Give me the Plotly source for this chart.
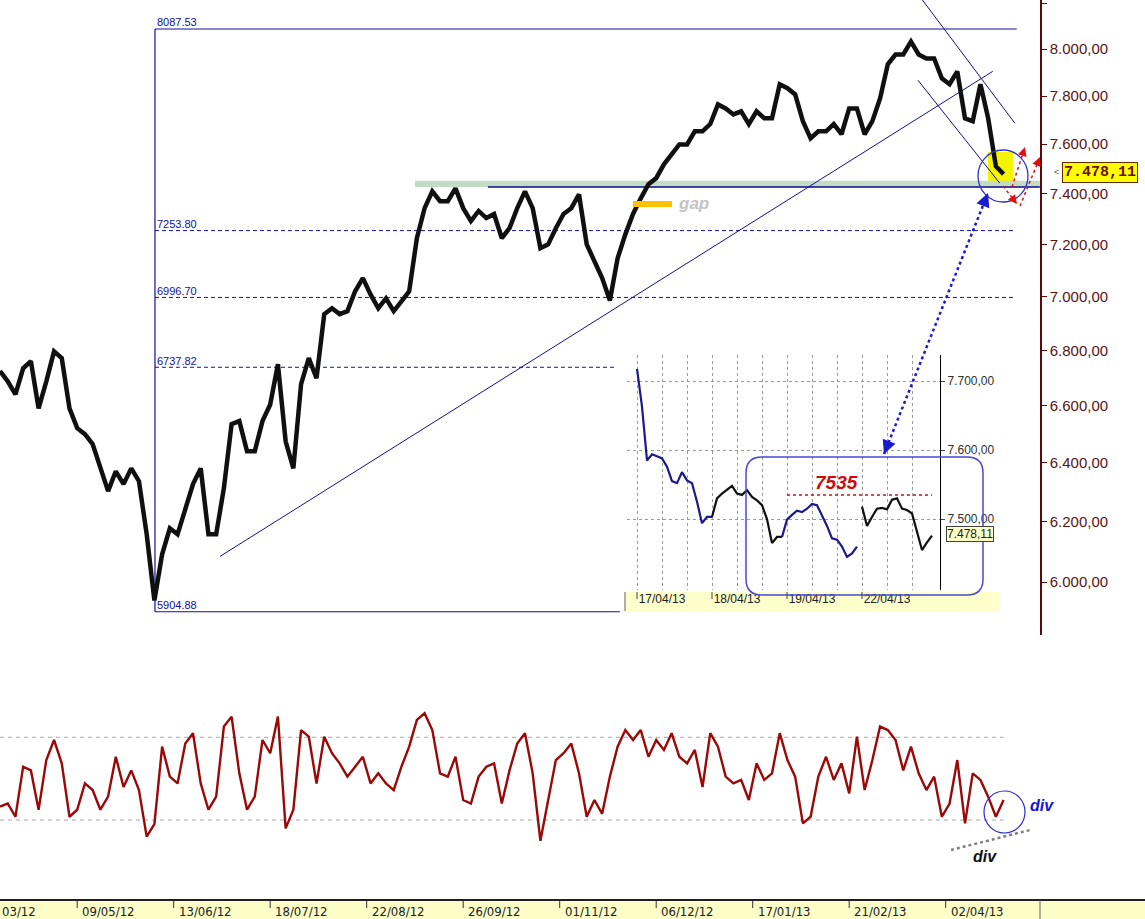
import plotly.graph_objects as go
import math

W, H = 1145, 919


def px(x):
    return x / W


def py(y):
    return 1 - y / H


# ---------------- data ----------------
# daily closes sampled every 2 trading days (index 0 = early April 2012)
close = [6724, 6687, 6640, 6734, 6760, 6590, 6687, 6796, 6771, 6590,
         6520, 6499, 6464, 6380, 6302, 6370, 6326, 6380, 6336, 6157,
         5941, 6091, 6177, 6157, 6244, 6326, 6380, 6157, 6157, 6312,
         6534, 6545, 6439, 6439, 6545, 6604, 6749, 6474, 6380, 6677,
         6771, 6698, 6934, 6956, 6934, 6945, 7020, 7070, 7008, 6956,
         6993, 6945, 6982, 7020, 7224, 7342, 7409, 7370, 7370, 7421,
         7342, 7291, 7331, 7303, 7319, 7224, 7263, 7342, 7409, 7342,
         7185, 7200, 7263, 7319, 7342, 7397, 7200, 7135, 7070, 6985,
         7146, 7239, 7319, 7381, 7438, 7462, 7518, 7558, 7599, 7599,
         7653, 7653, 7683, 7765, 7748, 7723, 7736, 7683, 7736, 7707,
         7707, 7850, 7833, 7807, 7695, 7624, 7653, 7653, 7683, 7641,
         7748, 7748, 7641, 7695, 7790, 7935, 7977, 7977, 8033, 7977,
         7960, 7960, 7875, 7850, 7905, 7707, 7695, 7850, 7707, 7510,
         7478.11]

osc = [36.5, 38, 31.6, 55.8, 54, 35, 59, 68.7, 57.4, 31.6,
       35, 47.7, 44.5, 35, 41.3, 60.6, 46, 54, 44.5, 22,
       28, 65.5, 51, 47.7, 67, 72, 47.7, 35, 41.3, 75.2,
       80, 52.6, 35, 41.3, 68.7, 62.3, 80, 26, 35, 73.5,
       70.3, 47.7, 70.3, 62.3, 57.4, 51, 55.8, 60.6, 47.7, 52.6,
       47.7, 44.5, 55.8, 65.5, 78.4, 81.6, 73.5, 52.6, 51, 60.6,
       39.7, 38, 51, 55.8, 57.4,
       38, 54, 67, 72, 52.6, 20, 39.7, 59, 62.3, 67,
       52.6, 31.6, 39.7, 33, 51, 65.5, 73.5, 68.7, 73.5, 60.6,
       68.7, 63.9, 72, 60.6, 57.4, 63.9, 46, 72, 65.5, 51,
       47.7, 49.4, 39.7, 57.4, 49.4, 52.6, 72, 59, 51, 28.4,
       31.6, 51, 60.6, 49.4, 57.4, 42.9, 70.3, 44.5, 59, 75.2,
       73.5, 68.7, 54, 65.5, 52.6, 44.5, 51, 31.6, 38, 59,
       28.4, 52.6, 49.4, 41.3, 31.6, 39.7]
osc_levels = [70, 30]

fib_levels = [8087.53, 7253.80, 6996.70, 6737.82, 5904.88]
fib_labels = ["8087.53", "7253.80", "6996.70", "6737.82", "5904.88"]
fib_solid = [True, False, False, False, True]
fib_end_day = [263.4, 263.0, 263.0, 159.3, 160.6]
fib_start_day = 40.15

price_ticks = [6000, 6200, 6400, 6600, 6800, 7000, 7200, 7400, 7600, 7800, 8000, 8200]
last_price = 7478.11

# first label is only partly visible at the left edge in the original ("03/12")
date_days = [-5, 20, 45, 70, 95, 120, 145, 170, 195, 220, 245]
date_labels = ["03/12", "09/05/12", "13/06/12", "18/07/12", "22/08/12", "26/09/12",
               "01/11/12", "06/12/12", "17/01/13", "21/02/13", "02/04/13"]

support_band = [7426, 7452]
support_band_days = [107.5, 269.4]
support_line_days = [126.4, 269.4]

# trend lines (day, price)
trend_up = ([57.0, 257.2], [6084, 7905])
chan_upper = ([238.8, 262.9], [8219, 7687])
chan_lower = ([237.8, 259.0], [7867, 7442])

# intraday inset (15 bars per session: 17/04, 18/04, 19/04, 22/04)
inset_close = [7718, 7663, 7585, 7594, 7591, 7588, 7576, 7555, 7552, 7568,
               7556, 7552, 7525, 7494, 7503, 7503, 7530, 7537, 7542, 7548,
               7537, 7535, 7542, 7532, 7527, 7520, 7500, 7465, 7474, 7474,
               7499, 7506, 7512, 7510, 7515, 7522, 7520, 7505, 7490, 7472,
               7470, 7460, 7445, 7450, 7460,
               7518, 7490, 7503, 7515, 7516, 7514, 7528, 7530, 7515, 7513,
               7508, 7480, 7455, 7466, 7476]
inset_day_labels = ["17/04/13", "18/04/13", "19/04/13", "22/04/13"]
inset_day_label_pos = [5, 20, 35, 50]
inset_session_start = [0, 15, 30, 45]
inset_ticks = [7500, 7600, 7700]
level_7535 = 7535

# ---------------- figure ----------------
BLUE = "#10109a"
MAROON = "#5a0a0a"
PX_PER_DAY = 3.86

fig = go.Figure()

# fib lines
for lvl, solid, end in zip(fib_levels, fib_solid, fib_end_day):
    fig.add_trace(go.Scatter(x=[fib_start_day, end], y=[lvl, lvl], mode="lines",
                             line=dict(color=BLUE, width=1, dash="solid" if solid else "4px,3px"),
                             xaxis="x", yaxis="y", hoverinfo="skip"))
fig.add_trace(go.Scatter(x=[fib_start_day, fib_start_day], y=[fib_levels[-1], fib_levels[0]],
                         mode="lines", line=dict(color=BLUE, width=1.2),
                         xaxis="x", yaxis="y", hoverinfo="skip"))
fig.add_trace(go.Scatter(x=[fib_start_day + 0.5] * len(fib_levels), y=fib_levels, text=fib_labels,
                         mode="text", textposition="top right",
                         textfont=dict(size=11, color=BLUE, family="Liberation Sans, Arial"),
                         xaxis="x", yaxis="y", hoverinfo="skip"))

# support band
fig.add_trace(go.Scatter(x=[support_band_days[0], support_band_days[1], support_band_days[1], support_band_days[0]],
                         y=[support_band[0], support_band[0], support_band[1], support_band[1]],
                         fill="toself", fillcolor="#c4dcc4", line=dict(width=0), mode="lines",
                         xaxis="x", yaxis="y", hoverinfo="skip"))
fig.add_trace(go.Scatter(x=support_line_days, y=[support_band[0], support_band[0]], mode="lines",
                         line=dict(color="#0a0a8c", width=1.5), xaxis="x", yaxis="y", hoverinfo="skip"))

# trend lines
for tl in (trend_up, chan_upper, chan_lower):
    fig.add_trace(go.Scatter(x=tl[0], y=tl[1], mode="lines", line=dict(color=BLUE, width=1),
                             xaxis="x", yaxis="y", hoverinfo="skip"))

# price
fig.add_trace(go.Scatter(x=[2 * i for i in range(len(close))], y=close, mode="lines",
                         line=dict(color="#101010", width=4.5), xaxis="x", yaxis="y",
                         hoverinfo="skip"))

# oscillator
n_osc = len(osc)
for lvl in osc_levels:
    fig.add_trace(go.Scatter(x=[0, 2 * (n_osc - 1)], y=[lvl, lvl], mode="lines",
                             line=dict(color="#a8a8a8", width=1, dash="4px,4px"),
                             xaxis="x2", yaxis="y2", hoverinfo="skip"))
fig.add_trace(go.Scatter(x=[2 * i for i in range(n_osc)], y=osc, mode="lines",
                         line=dict(color="#9a0808", width=2.4), xaxis="x2", yaxis="y2",
                         hoverinfo="skip"))

# inset segments
ix = list(range(len(inset_close)))
segments = [(0, 16, "#1a1a8a"), (15, 30, "#101010"), (29, 45, "#1a1a8a"), (45, 60, "#101010")]
for a, b, c in segments:
    fig.add_trace(go.Scatter(x=ix[a:b], y=inset_close[a:b], mode="lines",
                             line=dict(color=c, width=2.2), xaxis="x3", yaxis="y3", hoverinfo="skip"))
fig.add_trace(go.Scatter(x=[30, 59], y=[level_7535, level_7535], mode="lines",
                         line=dict(color="#d01010", width=1.5, dash="dot"),
                         xaxis="x3", yaxis="y3", hoverinfo="skip"))

# ---------------- layout ----------------
def fmt_it(v):
    s = f"{v:,.2f}"
    return s.replace(",", "X").replace(".", ",").replace("X", ".")


inset_tickvals = list(range(0, 60, 5))
inset_ticktext = []
for v in inset_tickvals:
    if v in inset_day_label_pos:
        inset_ticktext.append(inset_day_labels[inset_day_label_pos.index(v)])
    else:
        inset_ticktext.append("")

xr = [0, 1040 / PX_PER_DAY]
fig.update_layout(
    width=W, height=H, autosize=False,
    margin=dict(l=0, r=0, t=0, b=0),
    paper_bgcolor="white", plot_bgcolor="white",
    showlegend=False,
    font=dict(family="Liberation Sans, Arial, sans-serif"),
    xaxis=dict(domain=[0, px(1040)], range=xr, visible=False, anchor="y"),
    yaxis=dict(domain=[py(635), 1], type="log", range=[3.765764, 3.914615], anchor="x",
               side="right", showline=True, linecolor=MAROON, linewidth=1.5,
               ticks="outside", ticklen=5, tickcolor=MAROON, tickwidth=1,
               tickvals=price_ticks, ticktext=[fmt_it(v) for v in price_ticks],
               tickfont=dict(size=15, color="#5a1414"), showgrid=False, zeroline=False),
    xaxis2=dict(domain=[0, px(1040)], range=xr, visible=False, anchor="y2"),
    yaxis2=dict(domain=[py(890), py(680)], range=[-3.8, 97.7], visible=False, anchor="x2"),
    xaxis3=dict(domain=[px(627), px(940)], range=[-2, 60.6], anchor="y3",
                tickvals=inset_tickvals, ticktext=inset_ticktext, ticks="",
                showgrid=True, gridcolor="#9a9a9a", griddash="dot", gridwidth=1,
                tickfont=dict(size=12, color="#202020"), showline=False, zeroline=False),
    yaxis3=dict(domain=[py(590), py(355)], range=[7397, 7738], anchor="x3", side="right",
                showline=True, linecolor="black", linewidth=1.2, ticks="outside", ticklen=4,
                tickvals=inset_ticks, ticktext=[fmt_it(v) for v in inset_ticks],
                tickfont=dict(size=12, color="#303030"),
                showgrid=True, gridcolor="#9a9a9a", griddash="dot", zeroline=False),
)

shapes = []
ann = []

# yellow highlight + circle on main chart
shapes.append(dict(type="rect", xref="paper", yref="paper", x0=px(988), x1=px(1013), y0=py(188), y1=py(152),
                   fillcolor="#f4f400", line=dict(width=0), layer="below"))
shapes.append(dict(type="circle", xref="paper", yref="paper", x0=px(978), x1=px(1028), y0=py(202), y1=py(150),
                   line=dict(color="#3030d0", width=1.3)))

# red dotted arrows
red_arrows = [((1003, 186), (1017, 204)), ((1012, 187), (1025, 147)), ((1020, 206), (1040, 157))]
for (x0, y0), (x1, y1) in red_arrows:
    shapes.append(dict(type="line", xref="paper", yref="paper", x0=px(x0), y0=py(y0), x1=px(x1), y1=py(y1),
                       line=dict(color="#e01010", width=1.5, dash="dot")))
    dx, dy = x0 - x1, y0 - y1
    L = math.hypot(dx, dy)
    ann.append(dict(x=px(x1), y=py(y1), xref="paper", yref="paper", text="", showarrow=True,
                    ax=dx / L * 7, ay=dy / L * 7, arrowhead=2, arrowsize=1.2, arrowwidth=1.5,
                    arrowcolor="#e01010"))

# blue dotted double arrow from inset to circle
bx0, by0, bx1, by1 = 884, 454, 988, 193
shapes.append(dict(type="line", xref="paper", yref="paper", x0=px(bx0), y0=py(by0), x1=px(bx1), y1=py(by1),
                   line=dict(color="#1a1ad0", width=2.5, dash="dot")))
for (hx, hy), (tx, ty) in (((bx1, by1), (bx0, by0)), ((bx0, by0), (bx1, by1))):
    dx, dy = tx - hx, ty - hy
    L = math.hypot(dx, dy)
    ann.append(dict(x=px(hx), y=py(hy), xref="paper", yref="paper", text="", showarrow=True,
                    ax=dx / L * 9, ay=dy / L * 9, arrowhead=2, arrowsize=1.1, arrowwidth=2.5,
                    arrowcolor="#1a1ad0"))

# gap marker
shapes.append(dict(type="rect", xref="paper", yref="paper", x0=px(633), x1=px(672), y0=py(207), y1=py(201),
                   fillcolor="#ffc000", line=dict(width=0)))
ann.append(dict(x=px(676), y=py(203), xref="paper", yref="paper", text="<b><i>gap</i></b>", showarrow=False,
                xanchor="left", yanchor="middle", font=dict(size=17, color="#c4c4c4")))

# last price label main
ann.append(dict(x=px(1062), y=py(172), xref="paper", yref="paper", text="<b>" + fmt_it(last_price) + "</b>",
                showarrow=False, xanchor="left", yanchor="middle", bgcolor="#ffff00", bordercolor="#6a2a00",
                borderwidth=1, borderpad=1,
                font=dict(size=15, color="#6a1000", family="Liberation Mono, Courier New, monospace")))
ann.append(dict(x=px(1052), y=py(172), xref="paper", yref="paper", text="&lt;", showarrow=False,
                xanchor="left", yanchor="middle", font=dict(size=9, color="#555555")))

# inset rounded rect
x0, x1, y0, y1, r = 746, 983, 457, 595, 16
pth = (f"M {px(x0 + r)},{py(y0)} L {px(x1 - r)},{py(y0)} Q {px(x1)},{py(y0)} {px(x1)},{py(y0 + r)} "
       f"L {px(x1)},{py(y1 - r)} Q {px(x1)},{py(y1)} {px(x1 - r)},{py(y1)} "
       f"L {px(x0 + r)},{py(y1)} Q {px(x0)},{py(y1)} {px(x0)},{py(y1 - r)} "
       f"L {px(x0)},{py(y0 + r)} Q {px(x0)},{py(y0)} {px(x0 + r)},{py(y0)} Z")
shapes.append(dict(type="path", xref="paper", yref="paper", path=pth, line=dict(color="#4848d8", width=1.5)))

# inset date strip
shapes.append(dict(type="rect", xref="paper", yref="paper", x0=px(625), x1=px(1000), y0=py(611), y1=py(592),
                   fillcolor="#ffffcc", line=dict(width=0), layer="below"))
shapes.append(dict(type="line", xref="paper", yref="paper", x0=px(625), x1=px(625), y0=py(611), y1=py(592),
                   line=dict(color="#606060", width=1)))
for s in inset_session_start:
    shapes.append(dict(type="line", xref="x3", yref="paper", x0=s, x1=s, y0=py(592), y1=py(599),
                       line=dict(color="#404040", width=1)))
ann.append(dict(x=px(860), y=py(482), xref="paper", yref="paper", text="<b><i>7535</i></b>", showarrow=False,
                font=dict(size=19, color="#cc0c0c")))
ann.append(dict(x=px(946), y=py(534), xref="paper", yref="paper", text=fmt_it(last_price),
                showarrow=False, xanchor="left", yanchor="middle", bgcolor="#ffffc8", bordercolor="#404040",
                borderwidth=1, borderpad=0, font=dict(size=12, color="#202020")))

# bottom date strip
shapes.append(dict(type="rect", xref="paper", yref="paper", x0=0, x1=1, y0=0, y1=py(900),
                   fillcolor="#fdfdc8", line=dict(width=0), layer="below"))
shapes.append(dict(type="line", xref="paper", yref="paper", x0=0, x1=1, y0=py(900), y1=py(900),
                   line=dict(color="#202020", width=2)))
shapes.append(dict(type="line", xref="paper", yref="paper", x0=px(1040), x1=px(1040), y0=0, y1=py(900),
                   line=dict(color="#606060", width=1)))
for d, lab in zip(date_days, date_labels):
    xpix = d * PX_PER_DAY
    if xpix >= 0:
        shapes.append(dict(type="line", xref="paper", yref="paper", x0=px(xpix), x1=px(xpix),
                           y0=py(901), y1=py(908), line=dict(color="#303030", width=1)))
    ann.append(dict(x=px(max(xpix + 3, 0)), y=py(911), xref="paper", yref="paper", text=lab, showarrow=False,
                    xanchor="left", yanchor="middle",
                    font=dict(size=13, color="#202020",
                              family="Liberation Sans Narrow, Arial Narrow, DejaVu Sans Condensed, sans-serif")))

# oscillator markup
shapes.append(dict(type="circle", xref="paper", yref="paper", x0=px(984), x1=px(1025), y0=py(833), y1=py(791),
                   line=dict(color="#2a2ad0", width=1.2)))
shapes.append(dict(type="line", xref="paper", yref="paper", x0=px(951), x1=px(1030), y0=py(850), y1=py(830),
                   line=dict(color="#808080", width=2.5, dash="dot")))
ann.append(dict(x=px(1028), y=py(805), xref="paper", yref="paper", text="<b><i>div</i></b>", showarrow=False,
                xanchor="left", yanchor="middle", font=dict(size=16, color="#1414e0")))
ann.append(dict(x=px(971), y=py(856), xref="paper", yref="paper", text="<b><i>div</i></b>", showarrow=False,
                xanchor="left", yanchor="middle", font=dict(size=16, color="#101010")))

fig.update_layout(shapes=shapes, annotations=ann)
fig.write_html("out.html", config={"displayModeBar": False},
               post_script="document.body.style.margin='0';document.body.style.padding='0';")
